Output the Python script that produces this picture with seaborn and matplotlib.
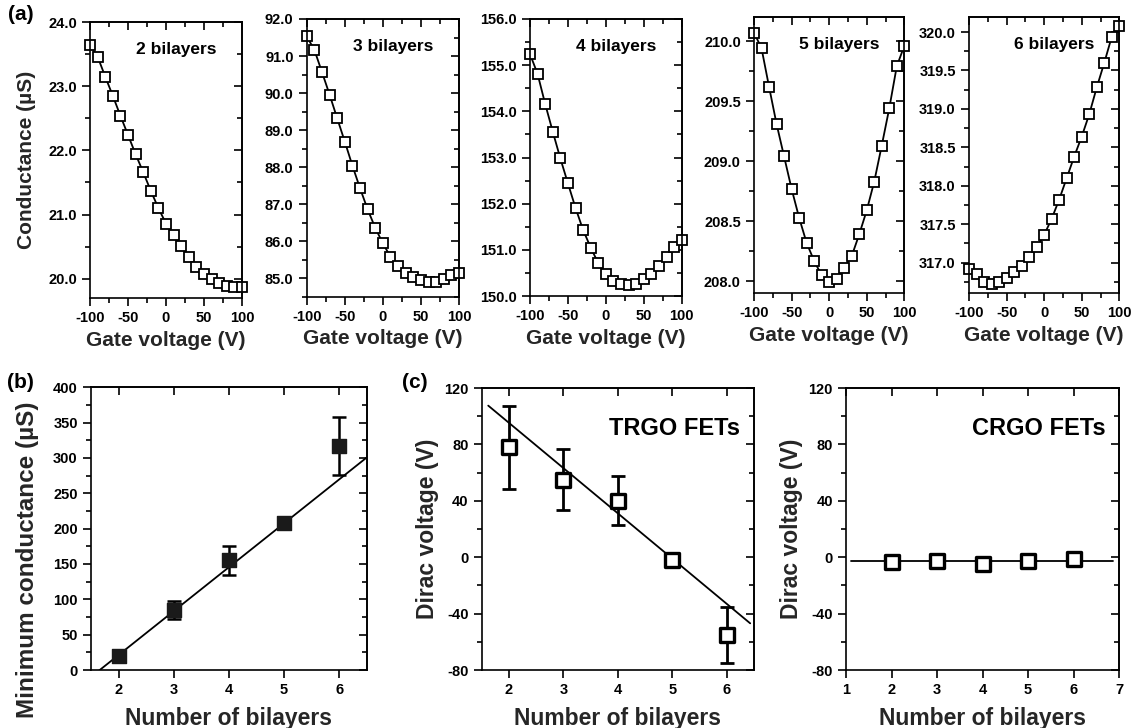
import numpy as np
import pandas as pd
import matplotlib
matplotlib.use("Agg")
import matplotlib.pyplot as plt
import matplotlib.ticker as ticker
import seaborn as sns

# ---- data ---------------------------------------------------------------
gate_v = list(range(-100, 101, 10))

g_2bl = [23.64, 23.46, 23.15, 22.85, 22.54, 22.24, 21.94, 21.66, 21.37, 21.10, 20.86,
         20.68, 20.51, 20.34, 20.19, 20.08, 20.00, 19.93, 19.88, 19.87, 19.87]
g_3bl = [91.53, 91.17, 90.57, 89.96, 89.32, 88.69, 88.04, 87.43, 86.86, 86.36, 85.94,
         85.58, 85.33, 85.15, 85.03, 84.94, 84.89, 84.90, 84.97, 85.08, 85.15]
g_4bl = [155.24, 154.81, 154.16, 153.56, 152.98, 152.44, 151.91, 151.43, 151.05, 150.71, 150.48,
         150.32, 150.25, 150.24, 150.27, 150.36, 150.48, 150.66, 150.85, 151.07, 151.21]
g_5bl = [210.07, 209.94, 209.62, 209.31, 209.04, 208.77, 208.53, 208.32, 208.17, 208.05, 207.99,
         208.02, 208.11, 208.21, 208.39, 208.59, 208.83, 209.13, 209.44, 209.79, 209.96]
g_6bl = [316.92, 316.85, 316.75, 316.72, 316.75, 316.80, 316.88, 316.96, 317.07, 317.20, 317.36,
         317.57, 317.82, 318.10, 318.38, 318.64, 318.93, 319.28, 319.60, 319.94, 320.08]

bilayers = [2, 3, 4, 5, 6]
g_min = [20, 85, 155, 208, 317]
g_min_err = [3, 13, 21, 4, 41]
g_min_fit = (62.1, -103.0)          # slope, intercept

trgo_dirac = [78, 55, 40, -2, -55]
trgo_err = [29.5, 21.7, 17.4, 3, 20]
trgo_fit = (-32.1, 159.5)
trgo_fit_range = (1.62, 6.43)

crgo_dirac = [-3.5, -2.5, -5.0, -2.5, -1.5]
crgo_err = [2.5, 2.0, 2.5, 2.0, 2.5]
crgo_fit = (0.0, -2.7)
crgo_fit_range = (1.1, 6.87)

a_series = [g_2bl, g_3bl, g_4bl, g_5bl, g_6bl]
a_titles = ["2 bilayers", "3 bilayers", "4 bilayers", "5 bilayers", "6 bilayers"]
a_ylims = [(19.7, 24.0), (84.5, 92.0), (150.0, 156.0), (207.9, 210.2), (316.6, 320.2)]
a_ymajor = [1.0, 1.0, 1.0, 0.5, 0.5]

# ---- style --------------------------------------------------------------
sns.set_style("ticks")
plt.rcParams["font.family"] = ["Liberation Sans", "DejaVu Sans"]
plt.rcParams["font.weight"] = "bold"
plt.rcParams["axes.labelweight"] = "bold"
plt.rcParams["axes.unicode_minus"] = False
plt.rcParams["axes.linewidth"] = 1.2
plt.rcParams["axes.edgecolor"] = "k"
plt.rcParams["text.color"] = "k"
plt.rcParams["xtick.color"] = "k"
plt.rcParams["ytick.color"] = "k"

W, H = 1131, 728
fig = plt.figure(figsize=(W / 100, H / 100), dpi=100)


def add_ax(x0, y0, x1, y1):
    return fig.add_axes([x0 / W, 1 - y1 / H, (x1 - x0) / W, (y1 - y0) / H])


def mirror_ticks(ax, xmaj, ymaj, xmin=None, ymin=None):
    ax.xaxis.set_major_locator(ticker.MultipleLocator(xmaj))
    ax.yaxis.set_major_locator(ticker.MultipleLocator(ymaj))
    if xmin:
        ax.xaxis.set_minor_locator(ticker.MultipleLocator(xmin))
    if ymin:
        ax.yaxis.set_minor_locator(ticker.MultipleLocator(ymin))
    ax.tick_params(which="major", direction="out", length=6, width=1.2, labelsize=10.5)
    ax.tick_params(which="minor", direction="out", length=3.5, width=1.2)
    top = ax.secondary_xaxis("top")
    top.xaxis.set_major_locator(ticker.MultipleLocator(xmaj))
    if xmin:
        top.xaxis.set_minor_locator(ticker.MultipleLocator(xmin))
    top.tick_params(which="major", direction="in", length=6, width=1.2, labeltop=False)
    top.tick_params(which="minor", direction="in", length=3.5, width=1.2)
    right = ax.secondary_yaxis("right")
    right.yaxis.set_major_locator(ticker.MultipleLocator(ymaj))
    if ymin:
        right.yaxis.set_minor_locator(ticker.MultipleLocator(ymin))
    right.tick_params(which="major", direction="in", length=6, width=1.2, labelright=False)
    right.tick_params(which="minor", direction="in", length=3.5, width=1.2)
    for s in ax.spines.values():
        s.set_visible(True)


# ---- row (a) ------------------------------------------------------------
a_boxes = [(90, 22, 242, 298), (306.7, 19, 459, 296.7), (530, 19, 681.7, 296),
           (754, 17, 904.3, 293.3), (969, 16.7, 1119.3, 293.3)]

for i, (box, ys) in enumerate(zip(a_boxes, a_series)):
    ax = add_ax(*box)
    df = pd.DataFrame({"Vg": gate_v, "G": ys})
    sns.lineplot(data=df, x="Vg", y="G", ax=ax, color="k", linewidth=1.3,
                 marker="s", markersize=7, markerfacecolor="white",
                 markeredgecolor="k", markeredgewidth=1.3, clip_on=False)
    ax.set_xlim(-100, 100)
    ax.set_ylim(*a_ylims[i])
    mirror_ticks(ax, 50, a_ymajor[i], 25, a_ymajor[i] / 2)
    ax.yaxis.set_major_formatter(ticker.FormatStrFormatter("%.1f"))
    ax.set_xlabel("Gate voltage (V)", fontsize=15, labelpad=4)
    ax.set_ylabel("Conductance (µS)" if i == 0 else "", fontsize=15, labelpad=9)
    ax.text(0.57, 0.90, a_titles[i], transform=ax.transAxes, ha="center", va="center",
            fontsize=12.5, fontweight="bold")

fig.text(8 / W, 1 - 15 / H, "(a)", fontsize=15, fontweight="bold", va="center")

# ---- panel (b) ----------------------------------------------------------
axb = add_ax(91, 387.3, 366.7, 670)
axb.set_xlim(1.5, 6.5)
axb.set_ylim(0, 400)
xs = np.array(axb.get_xlim())
sns.lineplot(x=xs, y=g_min_fit[0] * xs + g_min_fit[1], ax=axb, color="k", linewidth=1.3)
axb.errorbar(bilayers, g_min, yerr=g_min_err, fmt="none", ecolor="k",
             elinewidth=1.8, capsize=5, capthick=1.8, zorder=3)
sns.scatterplot(x=bilayers, y=g_min, ax=axb, marker="s", s=95, color="#1a1a1a",
                edgecolor="#1a1a1a", linewidth=1, zorder=4)
axb.set_xlim(1.5, 6.5)
axb.set_ylim(0, 400)
mirror_ticks(axb, 1, 50, None, 25)
axb.set_xlabel("Number of bilayers", fontsize=16.5, labelpad=7)
axb.set_ylabel("Minimum conductance (µS)", fontsize=17.5)
axb.yaxis.set_label_coords(-0.19, 0.39)
fig.text(7 / W, 1 - 383 / H, "(b)", fontsize=15, fontweight="bold", va="center")

# ---- panel (c) ----------------------------------------------------------
c_boxes = [(481.7, 388, 754, 670), (846, 388, 1119, 670)]
c_sets = [(trgo_dirac, trgo_err, trgo_fit, trgo_fit_range, "TRGO FETs", (1.5, 6.5)),
          (crgo_dirac, crgo_err, crgo_fit, crgo_fit_range, "CRGO FETs", (1, 7))]

for box, (yv, ye, fit, frange, label, xl) in zip(c_boxes, c_sets):
    ax = add_ax(*box)
    fx = np.array(frange)
    sns.lineplot(x=fx, y=fit[0] * fx + fit[1], ax=ax, color="k", linewidth=1.3)
    ax.errorbar(bilayers, yv, yerr=ye, fmt="none", ecolor="k",
                elinewidth=2.0, capsize=5, capthick=2.0, zorder=3)
    sns.scatterplot(x=bilayers, y=yv, ax=ax, marker="s", s=95, color="white",
                    edgecolor="k", linewidth=2.4, zorder=4)
    ax.set_xlim(*xl)
    ax.set_ylim(-80, 120)
    mirror_ticks(ax, 1, 40, None, 20)
    ax.set_xlabel("Number of bilayers", fontsize=16.5, labelpad=7)
    ax.set_ylabel("Dirac voltage (V)", fontsize=16.5, labelpad=4)
    ax.text(0.95, 0.855, label, transform=ax.transAxes, ha="right", va="center",
            fontsize=17, fontweight="bold")

fig.text(402 / W, 1 - 383 / H, "(c)", fontsize=15, fontweight="bold", va="center")

fig.savefig("out.png", dpi=100)
